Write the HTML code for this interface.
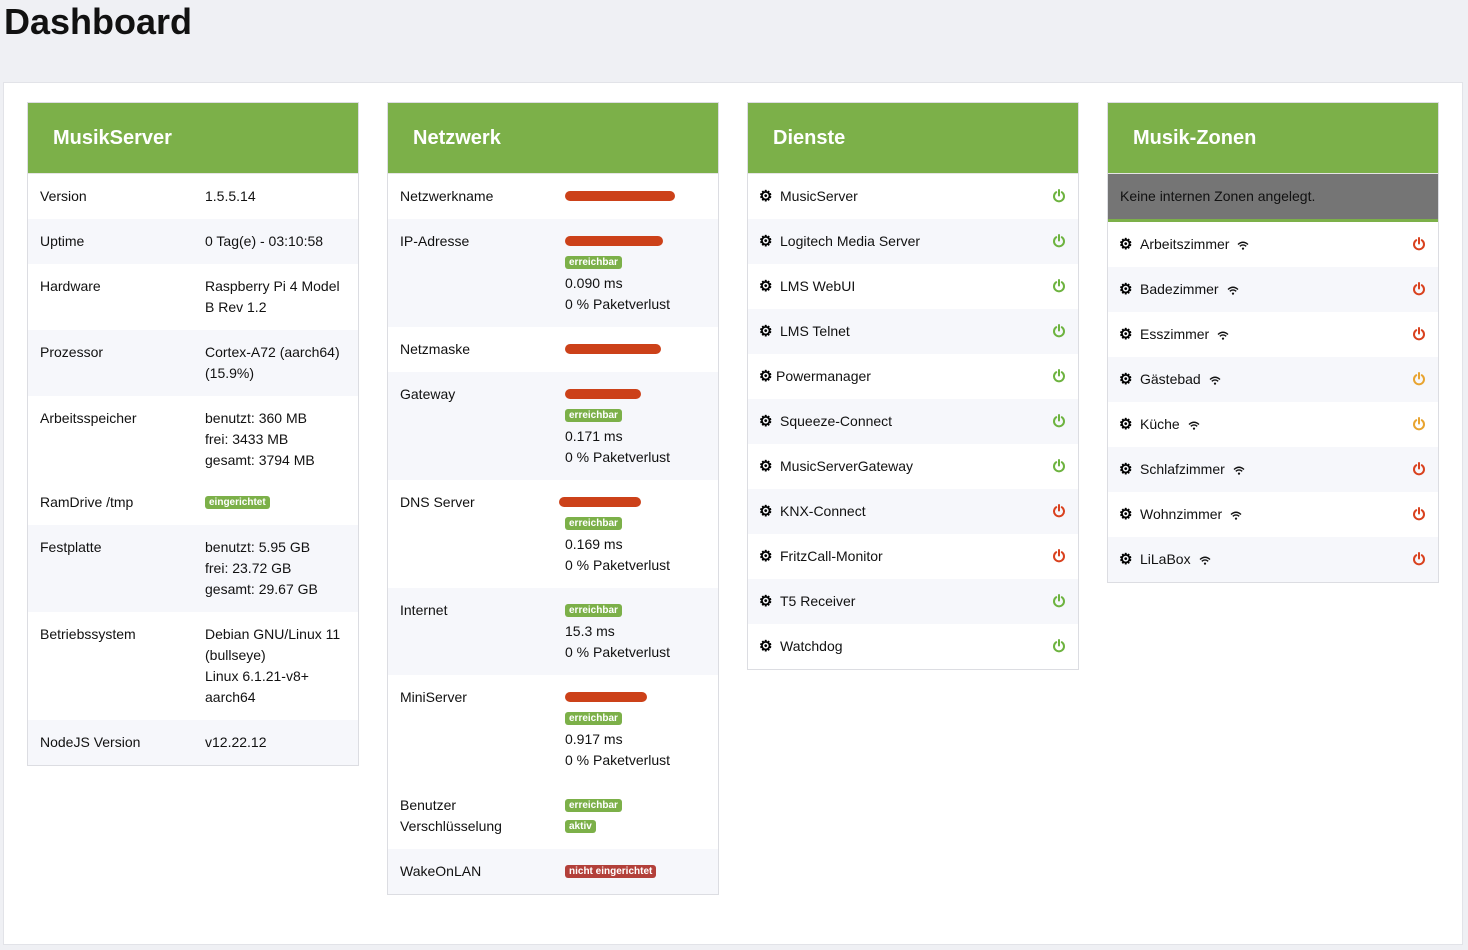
<!DOCTYPE html>
<html><head><meta charset="utf-8"><style>
*{box-sizing:border-box;margin:0;padding:0}
body{width:1468px;height:950px;background:#eff0f4;font-family:"Liberation Sans",Arial,sans-serif;font-size:14px;color:#111;position:relative;overflow:hidden}
h1{position:absolute;left:4px;top:2px;font-size:36px;font-weight:bold;color:#111;line-height:40px}
.wrap{position:absolute;left:3px;top:82px;width:1460px;height:863px;background:#fff;border:1px solid #e2e3e8}
.card{position:absolute;top:102px;width:332px;border:1px solid #dcdde2;background:#fff}
.hd{height:71px;background:#7cb049;color:#fff;font-weight:bold;font-size:20px;padding-left:25px;line-height:70px;border-bottom:1px solid #e5e5e5}
.r{position:relative;padding:12px 12px;line-height:21px}
.r.g{background:#f6f7fb}
.v{position:absolute;left:177px;top:12px;width:142px}
.b{display:inline-block;background:#7cb049;color:#fff;font-size:10px;font-weight:bold;line-height:13px;padding:0 4px;border-radius:3px;vertical-align:middle;position:relative;top:-1px}
.b.red{background:#b3403a}
.red-x{display:block;height:21px;position:relative}
.red-x i{position:absolute;top:5px;height:10px;background:#cc4119;border-radius:5px}
.s{position:relative;height:45px;line-height:45px;padding-left:32px}
.s.g{background:#f6f7fb}
.gear{position:absolute;left:11px;top:0;font-size:15px;font-weight:bold;color:#000}
.pw{position:absolute;right:12px;top:15px}
.wf{margin-left:8px;vertical-align:middle}
</style></head><body>
<h1>Dashboard</h1>
<div class="wrap"></div>

<div class="card" style="left:27px">
<div class="hd">MusikServer</div>
<div class="r">Version<div class="v">1.5.5.14</div></div>
<div class="r g">Uptime<div class="v">0 Tag(e) - 03:10:58</div></div>
<div class="r" style="height:66px">Hardware<div class="v">Raspberry Pi 4 Model B Rev 1.2</div></div>
<div class="r g" style="height:66px">Prozessor<div class="v">Cortex-A72 (aarch64) (15.9%)</div></div>
<div class="r" style="height:86px">Arbeitsspeicher<div class="v">benutzt: 360 MB<br>frei: 3433 MB<br>gesamt: 3794 MB</div></div>
<div class="r" style="height:43px;padding-top:10px">RamDrive /tmp<div class="v" style="top:10px"><span class="b">eingerichtet</span></div></div>
<div class="r g" style="height:87px">Festplatte<div class="v">benutzt: 5.95 GB<br>frei: 23.72 GB<br>gesamt: 29.67 GB</div></div>
<div class="r" style="height:108px">Betriebssystem<div class="v">Debian GNU/Linux 11 (bullseye)<br>Linux 6.1.21-v8+ aarch64</div></div>
<div class="r g">NodeJS Version<div class="v">v12.22.12</div></div>
</div>

<div class="card" style="left:387px">
<div class="hd">Netzwerk</div>
<div class="r">Netzwerkname<div class="v"><span class="red-x"><i style="left:0;width:110px"></i></span></div></div>
<div class="r g" style="height:108px">IP-Adresse<div class="v"><span class="red-x"><i style="left:0;width:98px"></i></span><span class="b">erreichbar</span><br>0.090 ms<br>0 % Paketverlust</div></div>
<div class="r">Netzmaske<div class="v"><span class="red-x"><i style="left:0;width:96px"></i></span></div></div>
<div class="r g" style="height:108px">Gateway<div class="v"><span class="red-x"><i style="left:0;width:76px"></i></span><span class="b">erreichbar</span><br>0.171 ms<br>0 % Paketverlust</div></div>
<div class="r" style="height:108px">DNS Server<div class="v"><span class="red-x"><i style="left:-6px;width:82px"></i></span><span class="b">erreichbar</span><br>0.169 ms<br>0 % Paketverlust</div></div>
<div class="r g" style="height:87px">Internet<div class="v"><span class="b">erreichbar</span><br>15.3 ms<br>0 % Paketverlust</div></div>
<div class="r" style="height:108px">MiniServer<div class="v"><span class="red-x"><i style="left:0;width:82px"></i></span><span class="b">erreichbar</span><br>0.917 ms<br>0 % Paketverlust</div></div>
<div class="r" style="height:66px">Benutzer<br>Verschlüsselung<div class="v"><span class="b">erreichbar</span><br><span class="b">aktiv</span></div></div>
<div class="r g">WakeOnLAN<div class="v"><span class="b red">nicht eingerichtet</span></div></div>
</div>

<div class="card" style="left:747px">
<div class="hd">Dienste</div>
<div class="s"><span class="gear">⚙</span>MusicServer<svg class="pw" width="14" height="14" viewBox="0 0 14 14"><path d="M4.2 3.2A5 5 0 1 0 9.8 3.2" stroke="#6db33f" stroke-width="2" fill="none" stroke-linecap="round"/><line x1="7" y1="1" x2="7" y2="6.5" stroke="#6db33f" stroke-width="2" stroke-linecap="round"/></svg></div>
<div class="s g"><span class="gear">⚙</span>Logitech Media Server<svg class="pw" width="14" height="14" viewBox="0 0 14 14"><path d="M4.2 3.2A5 5 0 1 0 9.8 3.2" stroke="#6db33f" stroke-width="2" fill="none" stroke-linecap="round"/><line x1="7" y1="1" x2="7" y2="6.5" stroke="#6db33f" stroke-width="2" stroke-linecap="round"/></svg></div>
<div class="s"><span class="gear">⚙</span>LMS WebUI<svg class="pw" width="14" height="14" viewBox="0 0 14 14"><path d="M4.2 3.2A5 5 0 1 0 9.8 3.2" stroke="#6db33f" stroke-width="2" fill="none" stroke-linecap="round"/><line x1="7" y1="1" x2="7" y2="6.5" stroke="#6db33f" stroke-width="2" stroke-linecap="round"/></svg></div>
<div class="s g"><span class="gear">⚙</span>LMS Telnet<svg class="pw" width="14" height="14" viewBox="0 0 14 14"><path d="M4.2 3.2A5 5 0 1 0 9.8 3.2" stroke="#6db33f" stroke-width="2" fill="none" stroke-linecap="round"/><line x1="7" y1="1" x2="7" y2="6.5" stroke="#6db33f" stroke-width="2" stroke-linecap="round"/></svg></div>
<div class="s" style="padding-left:28px"><span class="gear">⚙</span>Powermanager<svg class="pw" width="14" height="14" viewBox="0 0 14 14"><path d="M4.2 3.2A5 5 0 1 0 9.8 3.2" stroke="#6db33f" stroke-width="2" fill="none" stroke-linecap="round"/><line x1="7" y1="1" x2="7" y2="6.5" stroke="#6db33f" stroke-width="2" stroke-linecap="round"/></svg></div>
<div class="s g"><span class="gear">⚙</span>Squeeze-Connect<svg class="pw" width="14" height="14" viewBox="0 0 14 14"><path d="M4.2 3.2A5 5 0 1 0 9.8 3.2" stroke="#6db33f" stroke-width="2" fill="none" stroke-linecap="round"/><line x1="7" y1="1" x2="7" y2="6.5" stroke="#6db33f" stroke-width="2" stroke-linecap="round"/></svg></div>
<div class="s"><span class="gear">⚙</span>MusicServerGateway<svg class="pw" width="14" height="14" viewBox="0 0 14 14"><path d="M4.2 3.2A5 5 0 1 0 9.8 3.2" stroke="#6db33f" stroke-width="2" fill="none" stroke-linecap="round"/><line x1="7" y1="1" x2="7" y2="6.5" stroke="#6db33f" stroke-width="2" stroke-linecap="round"/></svg></div>
<div class="s g"><span class="gear">⚙</span>KNX-Connect<svg class="pw" width="14" height="14" viewBox="0 0 14 14"><path d="M4.2 3.2A5 5 0 1 0 9.8 3.2" stroke="#d9411e" stroke-width="2" fill="none" stroke-linecap="round"/><line x1="7" y1="1" x2="7" y2="6.5" stroke="#d9411e" stroke-width="2" stroke-linecap="round"/></svg></div>
<div class="s"><span class="gear">⚙</span>FritzCall-Monitor<svg class="pw" width="14" height="14" viewBox="0 0 14 14"><path d="M4.2 3.2A5 5 0 1 0 9.8 3.2" stroke="#d9411e" stroke-width="2" fill="none" stroke-linecap="round"/><line x1="7" y1="1" x2="7" y2="6.5" stroke="#d9411e" stroke-width="2" stroke-linecap="round"/></svg></div>
<div class="s g"><span class="gear">⚙</span>T5 Receiver<svg class="pw" width="14" height="14" viewBox="0 0 14 14"><path d="M4.2 3.2A5 5 0 1 0 9.8 3.2" stroke="#6db33f" stroke-width="2" fill="none" stroke-linecap="round"/><line x1="7" y1="1" x2="7" y2="6.5" stroke="#6db33f" stroke-width="2" stroke-linecap="round"/></svg></div>
<div class="s"><span class="gear">⚙</span>Watchdog<svg class="pw" width="14" height="14" viewBox="0 0 14 14"><path d="M4.2 3.2A5 5 0 1 0 9.8 3.2" stroke="#6db33f" stroke-width="2" fill="none" stroke-linecap="round"/><line x1="7" y1="1" x2="7" y2="6.5" stroke="#6db33f" stroke-width="2" stroke-linecap="round"/></svg></div>
</div>

<div class="card" style="left:1107px">
<div class="hd">Musik-Zonen</div>
<div style="background:#757575;height:48px;line-height:45px;padding-left:12px;border-bottom:3px solid #7cb049;color:#111">Keine internen Zonen angelegt.</div>
<div class="s"><span class="gear">⚙</span>Arbeitszimmer<svg class="wf" width="12" height="9" viewBox="0 0 12 9"><path d="M1 3.5Q6 -1 11 3.5M2.8 5.3Q6 2.6 9.2 5.3" stroke="#111" stroke-width="1.4" fill="none"/><circle cx="6" cy="7.6" r="1.1" fill="#111"/></svg><svg class="pw" width="14" height="14" viewBox="0 0 14 14"><path d="M4.2 3.2A5 5 0 1 0 9.8 3.2" stroke="#d9411e" stroke-width="2" fill="none" stroke-linecap="round"/><line x1="7" y1="1" x2="7" y2="6.5" stroke="#d9411e" stroke-width="2" stroke-linecap="round"/></svg></div>
<div class="s g"><span class="gear">⚙</span>Badezimmer<svg class="wf" width="12" height="9" viewBox="0 0 12 9"><path d="M1 3.5Q6 -1 11 3.5M2.8 5.3Q6 2.6 9.2 5.3" stroke="#111" stroke-width="1.4" fill="none"/><circle cx="6" cy="7.6" r="1.1" fill="#111"/></svg><svg class="pw" width="14" height="14" viewBox="0 0 14 14"><path d="M4.2 3.2A5 5 0 1 0 9.8 3.2" stroke="#d9411e" stroke-width="2" fill="none" stroke-linecap="round"/><line x1="7" y1="1" x2="7" y2="6.5" stroke="#d9411e" stroke-width="2" stroke-linecap="round"/></svg></div>
<div class="s"><span class="gear">⚙</span>Esszimmer<svg class="wf" width="12" height="9" viewBox="0 0 12 9"><path d="M1 3.5Q6 -1 11 3.5M2.8 5.3Q6 2.6 9.2 5.3" stroke="#111" stroke-width="1.4" fill="none"/><circle cx="6" cy="7.6" r="1.1" fill="#111"/></svg><svg class="pw" width="14" height="14" viewBox="0 0 14 14"><path d="M4.2 3.2A5 5 0 1 0 9.8 3.2" stroke="#d9411e" stroke-width="2" fill="none" stroke-linecap="round"/><line x1="7" y1="1" x2="7" y2="6.5" stroke="#d9411e" stroke-width="2" stroke-linecap="round"/></svg></div>
<div class="s g"><span class="gear">⚙</span>Gästebad<svg class="wf" width="12" height="9" viewBox="0 0 12 9"><path d="M1 3.5Q6 -1 11 3.5M2.8 5.3Q6 2.6 9.2 5.3" stroke="#111" stroke-width="1.4" fill="none"/><circle cx="6" cy="7.6" r="1.1" fill="#111"/></svg><svg class="pw" width="14" height="14" viewBox="0 0 14 14"><path d="M4.2 3.2A5 5 0 1 0 9.8 3.2" stroke="#e8a430" stroke-width="2" fill="none" stroke-linecap="round"/><line x1="7" y1="1" x2="7" y2="6.5" stroke="#e8a430" stroke-width="2" stroke-linecap="round"/></svg></div>
<div class="s"><span class="gear">⚙</span>Küche<svg class="wf" width="12" height="9" viewBox="0 0 12 9"><path d="M1 3.5Q6 -1 11 3.5M2.8 5.3Q6 2.6 9.2 5.3" stroke="#111" stroke-width="1.4" fill="none"/><circle cx="6" cy="7.6" r="1.1" fill="#111"/></svg><svg class="pw" width="14" height="14" viewBox="0 0 14 14"><path d="M4.2 3.2A5 5 0 1 0 9.8 3.2" stroke="#e8a430" stroke-width="2" fill="none" stroke-linecap="round"/><line x1="7" y1="1" x2="7" y2="6.5" stroke="#e8a430" stroke-width="2" stroke-linecap="round"/></svg></div>
<div class="s g"><span class="gear">⚙</span>Schlafzimmer<svg class="wf" width="12" height="9" viewBox="0 0 12 9"><path d="M1 3.5Q6 -1 11 3.5M2.8 5.3Q6 2.6 9.2 5.3" stroke="#111" stroke-width="1.4" fill="none"/><circle cx="6" cy="7.6" r="1.1" fill="#111"/></svg><svg class="pw" width="14" height="14" viewBox="0 0 14 14"><path d="M4.2 3.2A5 5 0 1 0 9.8 3.2" stroke="#d9411e" stroke-width="2" fill="none" stroke-linecap="round"/><line x1="7" y1="1" x2="7" y2="6.5" stroke="#d9411e" stroke-width="2" stroke-linecap="round"/></svg></div>
<div class="s"><span class="gear">⚙</span>Wohnzimmer<svg class="wf" width="12" height="9" viewBox="0 0 12 9"><path d="M1 3.5Q6 -1 11 3.5M2.8 5.3Q6 2.6 9.2 5.3" stroke="#111" stroke-width="1.4" fill="none"/><circle cx="6" cy="7.6" r="1.1" fill="#111"/></svg><svg class="pw" width="14" height="14" viewBox="0 0 14 14"><path d="M4.2 3.2A5 5 0 1 0 9.8 3.2" stroke="#d9411e" stroke-width="2" fill="none" stroke-linecap="round"/><line x1="7" y1="1" x2="7" y2="6.5" stroke="#d9411e" stroke-width="2" stroke-linecap="round"/></svg></div>
<div class="s g"><span class="gear">⚙</span>LiLaBox<svg class="wf" width="12" height="9" viewBox="0 0 12 9"><path d="M1 3.5Q6 -1 11 3.5M2.8 5.3Q6 2.6 9.2 5.3" stroke="#111" stroke-width="1.4" fill="none"/><circle cx="6" cy="7.6" r="1.1" fill="#111"/></svg><svg class="pw" width="14" height="14" viewBox="0 0 14 14"><path d="M4.2 3.2A5 5 0 1 0 9.8 3.2" stroke="#d9411e" stroke-width="2" fill="none" stroke-linecap="round"/><line x1="7" y1="1" x2="7" y2="6.5" stroke="#d9411e" stroke-width="2" stroke-linecap="round"/></svg></div>
</div>
</body></html>
